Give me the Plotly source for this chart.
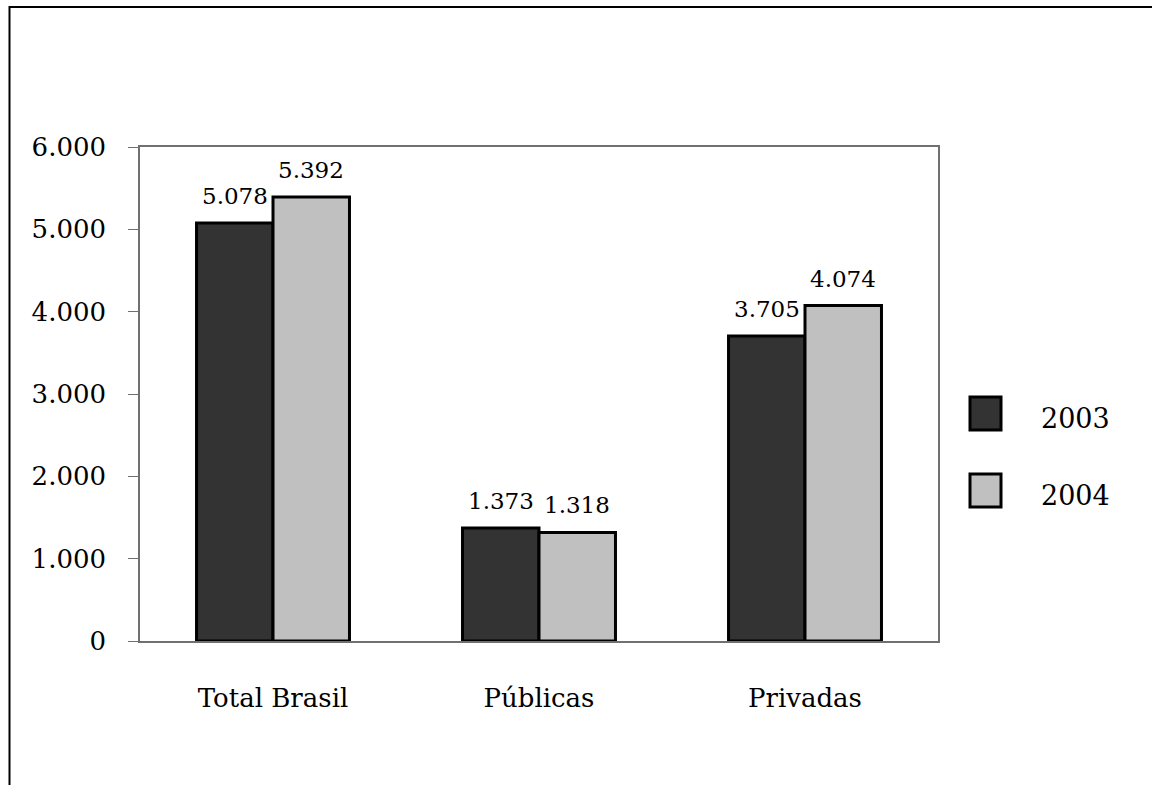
import plotly.graph_objects as go

categories = ["Total Brasil", "Públicas", "Privadas"]
series_names = ["2003", "2004"]
values_2003 = [5078, 1373, 3705]
values_2004 = [5392, 1318, 4074]
y_ticks = [0, 1000, 2000, 3000, 4000, 5000, 6000]

colors = ["#333333", "#C0C0C0"]
FONT = "DejaVu Serif"

fig = go.Figure()
for name, vals, col in zip(series_names, [values_2003, values_2004], colors):
    fig.add_trace(go.Bar(
        x=categories, y=vals, name=name,
        marker=dict(color=col, line=dict(color="#000000", width=3)),
        showlegend=False,
    ))

# data labels
offsets = [-38, 38]
annotations = []
for vals, dx in zip([values_2003, values_2004], offsets):
    for c, v in zip(categories, vals):
        annotations.append(dict(
            x=c, y=v, xref="x", yref="y", text=f"{v:,}".replace(",", "."),
            showarrow=False, xshift=dx, yshift=12, yanchor="bottom",
            font=dict(family=FONT, size=23, color="#000000"),
        ))

# legend drawn manually
W, H = 1152, 785
L, R, T, B = 140, 938, 147, 641
pw, ph = R - L, B - T
def px(x):
    return (x - L) / pw
def py(y):
    return (B - y) / ph

shapes = []
leg_y = [397, 474]
for name, col, yy in zip(series_names, colors, leg_y):
    shapes.append(dict(type="rect", xref="paper", yref="paper",
                       x0=px(970), x1=px(1001), y0=py(yy + 33), y1=py(yy),
                       fillcolor=col, line=dict(color="#000000", width=3)))
    annotations.append(dict(x=px(1039), y=py(yy + 21), xref="paper", yref="paper",
                            text=name, showarrow=False, xanchor="left", yanchor="middle",
                            font=dict(family=FONT, size=27, color="#000000")))

# outer border
shapes.append(dict(type="rect", xref="paper", yref="paper",
                   x0=px(9.5), x1=px(1200), y0=py(900), y1=py(7),
                   line=dict(color="#000000", width=2), fillcolor="rgba(0,0,0,0)", layer="below"))

fig.update_layout(
    width=W, height=H,
    margin=dict(l=L, r=W - R, t=T, b=H - B),
    paper_bgcolor="white", plot_bgcolor="white",
    barmode="group", bargap=0.425, bargroupgap=0,
    separators=",.",
    font=dict(family=FONT, size=26, color="#000000"),
    xaxis=dict(showgrid=False, showline=True, linecolor="#707070", linewidth=1.5,
               mirror=True, ticks="outside", ticklen=0, ticklabelstandoff=33,
               tickfont=dict(family=FONT, size=26)),
    yaxis=dict(range=[0, 6000], tickvals=y_ticks, tickformat=",d",
               showgrid=False, zeroline=False, showline=True, linecolor="#707070",
               linewidth=1.5, mirror=True, ticks="outside", ticklen=10,
               tickcolor="#707070", ticklabelstandoff=17,
               tickfont=dict(family=FONT, size=26)),
    annotations=annotations, shapes=shapes,
)

fig.write_html("out.html")
